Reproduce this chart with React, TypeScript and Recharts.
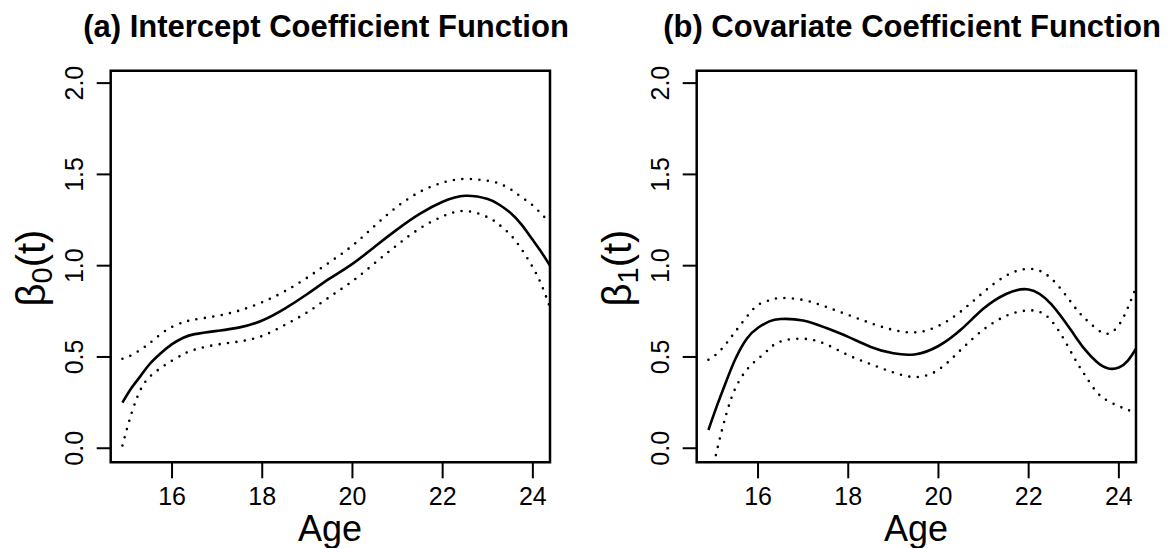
import React from 'react';
import { LineChart, Line, XAxis, YAxis, ReferenceArea } from 'recharts';

// Age grid (years)
const ages = [14.9, 15.1, 15.3, 15.5, 15.75, 16, 16.25, 16.5, 17, 17.5, 18, 18.5, 19, 19.5, 20, 20.5, 21, 21.5, 22, 22.5, 23, 23.25, 23.5, 23.75, 24, 24.2, 24.38];

// (a) Intercept coefficient function
const interceptEst = [0.25, 0.33, 0.395, 0.46, 0.52, 0.57, 0.605, 0.625, 0.643, 0.662, 0.7, 0.765, 0.845, 0.93, 1.01, 1.105, 1.2, 1.285, 1.35, 1.383, 1.365, 1.335, 1.29, 1.225, 1.14, 1.07, 1.0];
const interceptUpper = [0.49, 0.51, 0.54, 0.575, 0.625, 0.665, 0.69, 0.705, 0.725, 0.755, 0.8, 0.86, 0.935, 1.02, 1.11, 1.22, 1.325, 1.405, 1.455, 1.475, 1.465, 1.45, 1.42, 1.375, 1.33, 1.28, 1.24];
const interceptLower = [0.015, 0.19, 0.32, 0.39, 0.44, 0.48, 0.515, 0.54, 0.568, 0.585, 0.615, 0.675, 0.745, 0.83, 0.915, 1.015, 1.115, 1.205, 1.27, 1.3, 1.265, 1.225, 1.17, 1.09, 0.99, 0.89, 0.77];

// (b) Covariate coefficient function
const covariateEst = [0.1, 0.24, 0.37, 0.49, 0.6, 0.66, 0.695, 0.708, 0.7, 0.66, 0.61, 0.555, 0.52, 0.515, 0.56, 0.65, 0.765, 0.845, 0.87, 0.79, 0.625, 0.54, 0.475, 0.438, 0.442, 0.48, 0.545];
const covariateUpper = [0.485, 0.52, 0.575, 0.64, 0.72, 0.785, 0.81, 0.823, 0.812, 0.775, 0.73, 0.685, 0.648, 0.635, 0.67, 0.75, 0.855, 0.945, 0.983, 0.93, 0.78, 0.71, 0.655, 0.627, 0.675, 0.77, 0.88];
const covariateLower = [-0.22, 0.0, 0.19, 0.33, 0.43, 0.49, 0.545, 0.585, 0.6, 0.57, 0.51, 0.46, 0.415, 0.39, 0.43, 0.54, 0.65, 0.725, 0.755, 0.7, 0.5, 0.4, 0.31, 0.26, 0.23, 0.21, 0.195];

const xTicks = [16, 18, 20, 22, 24];
const yTicks = [0, 0.5, 1, 1.5, 2];
const X_DOMAIN: [number, number] = [14.64, 24.38];
const Y_DOMAIN: [number, number] = [-0.077, 2.068];

const FONT = '"Liberation Sans", Arial, Helvetica, sans-serif';

const buildRows = (est: number[], lo: number[], hi: number[]) =>
  ages.map((a, i) => ({ age: a, est: est[i], lo: lo[i], hi: hi[i] }));

const XTick = (props: any) => {
  const { x, y, payload } = props;
  return (
    <text x={x} y={y + 25} textAnchor="middle" fontSize={25} fontFamily={FONT} fill="#000">
      {payload.value}
    </text>
  );
};

const YTick = (props: any) => {
  const { x, y, payload } = props;
  const bx = x - 12;
  return (
    <text
      x={bx}
      y={y}
      transform={`rotate(-90 ${bx} ${y})`}
      textAnchor="middle"
      fontSize={25}
      fontFamily={FONT}
      fill="#000"
    >
      {Number(payload.value).toFixed(1)}
    </text>
  );
};

const W = 586;
const H = 548;

const Panel = ({ title, sub, est, lo, hi }: { title: string; sub: string; est: number[]; lo: number[]; hi: number[] }) => {
  const rows = buildRows(est, lo, hi);
  return (
    <div style={{ position: 'relative', width: W, height: H }}>
      <LineChart width={W} height={H} data={rows} margin={{ top: 70.7, right: 36, bottom: 25.7, left: 50.7 }}>
        <XAxis
          dataKey="age"
          type="number"
          domain={X_DOMAIN}
          ticks={xTicks}
          allowDataOverflow
          axisLine={false}
          tickLine={{ stroke: '#000', strokeWidth: 2 }}
          tickSize={16}
          tick={<XTick />}
          height={60}
          interval={0}
        />
        <YAxis
          type="number"
          domain={Y_DOMAIN}
          ticks={yTicks}
          allowDataOverflow
          axisLine={false}
          tickLine={{ stroke: '#000', strokeWidth: 2 }}
          tickSize={14}
          tick={<YTick />}
          width={60}
          interval={0}
        />
        <ReferenceArea
          x1={X_DOMAIN[0]}
          x2={X_DOMAIN[1]}
          y1={Y_DOMAIN[0]}
          y2={Y_DOMAIN[1]}
          fill="none"
          fillOpacity={0}
          stroke="#000"
          strokeWidth={2.5}
        />
        <Line dataKey="hi" type="natural" stroke="#000" strokeWidth={2.6} strokeDasharray="0 8.5" strokeLinecap="round" dot={false} isAnimationActive={false} />
        <Line dataKey="lo" type="natural" stroke="#000" strokeWidth={2.6} strokeDasharray="0 8.5" strokeLinecap="round" dot={false} isAnimationActive={false} />
        <Line dataKey="est" type="natural" stroke="#000" strokeWidth={2.6} dot={false} isAnimationActive={false} />
      </LineChart>
      <svg width={W} height={H} style={{ position: 'absolute', left: 0, top: 0, pointerEvents: 'none' }}>
        <text x={326} y={37} textAnchor="middle" fontSize={31} fontWeight="bold" fontFamily={FONT} fill="#000">
          {title}
        </text>
        <text x={330} y={541} textAnchor="middle" fontSize={36} fontFamily={FONT} fill="#000">
          Age
        </text>
        <text
          x={45}
          y={268}
          transform={`rotate(-90 45 268)`}
          textAnchor="middle"
          fontSize={40}
          fontFamily={FONT}
          fill="#000"
        >
          β<tspan fontSize={29} dy={7}>{sub}</tspan>
          <tspan dy={-7}>(t)</tspan>
        </text>
      </svg>
    </div>
  );
};

export default function App() {
  return (
    <div style={{ position: 'absolute', left: 0, top: 0, width: 1172, height: 548, background: '#fff', display: 'flex' }}>
      <Panel title="(a) Intercept Coefficient Function" sub="0" est={interceptEst} lo={interceptLower} hi={interceptUpper} />
      <Panel title="(b) Covariate Coefficient Function" sub="1" est={covariateEst} lo={covariateLower} hi={covariateUpper} />
    </div>
  );
}
